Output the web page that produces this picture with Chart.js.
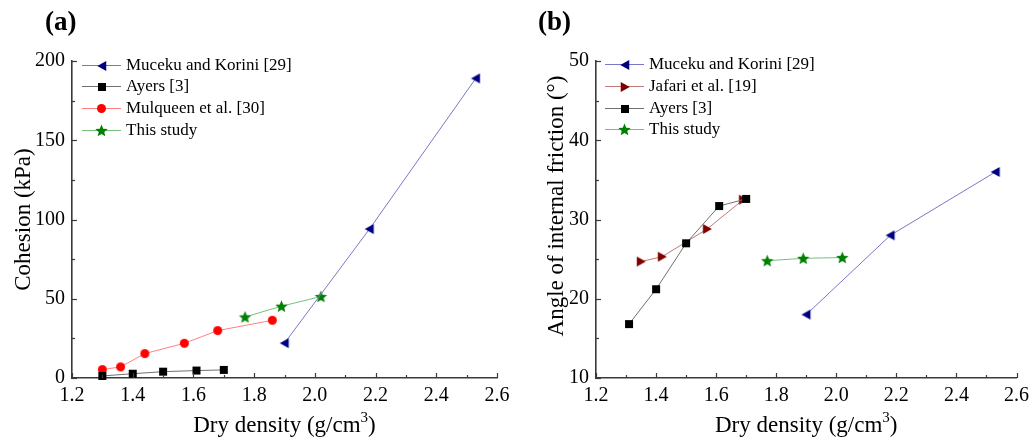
<!DOCTYPE html>
<html>
<head>
<meta charset="utf-8">
<script src="https://cdn.jsdelivr.net/npm/chart.js@4.4.0/dist/chart.umd.min.js"></script>
<style>
  body { margin: 0; background: #fff; }
  #wrap { position: relative; width: 1035px; height: 440px; }
  .panel { position: absolute; top: 0; height: 440px; }
</style>
</head>
<body>
<div id="wrap">
  <div class="panel" style="left:0;width:517px"><canvas id="chartA" width="517" height="440"></canvas></div>
  <div class="panel" style="left:517px;width:518px"><canvas id="chartB" width="518" height="440"></canvas></div>
</div>
<script>
// ---- data ----
// (a) cohesion
const mucekuDensA = [1.90, 2.18, 2.53];
const mucekuCohesion = [22, 94, 189];
const ayersDensA = [1.30, 1.40, 1.50, 1.61, 1.70];
const ayersCohesion = [1.3, 2.7, 4.0, 4.7, 5.1];
const mulqueenDens = [1.30, 1.36, 1.44, 1.57, 1.68, 1.86];
const mulqueenCohesion = [5.3, 7.0, 15.4, 21.9, 29.9, 36.4];
const studyDensA = [1.77, 1.89, 2.02];
const studyCohesion = [38.5, 45.3, 51.4];

// (b) angle of internal friction
const mucekuDensB = [1.90, 2.18, 2.53];
const mucekuFriction = [18.0, 28.0, 36.0];
const jafariDens = [1.35, 1.42, 1.57, 1.69];
const jafariFriction = [24.7, 25.3, 28.8, 32.5];
const ayersDensB = [1.31, 1.40, 1.50, 1.61, 1.70];
const ayersFriction = [16.8, 21.2, 27.0, 31.7, 32.6];
const studyDensB = [1.77, 1.89, 2.02];
const studyFriction = [24.8, 25.1, 25.2];

// ticks
const xTicks = [1.2, 1.4, 1.6, 1.8, 2.0, 2.2, 2.4, 2.6];
const xMinor = [1.3, 1.5, 1.7, 1.9, 2.1, 2.3, 2.5];
const yTicksA = [0, 50, 100, 150, 200];
const yMinorA = [25, 75, 125, 175];
const yTicksB = [10, 20, 30, 40, 50];
const yMinorB = [15, 25, 35, 45];

const FONT = '"Liberation Serif", "Times New Roman", serif';
const AXIS = '#3a3a3a';

function pts(xs, ys) {
  return xs.map((x, i) => ({ x: x, y: ys[i] }));
}

// marker images so chart points and legend symbols look the same
function marker(kind, color, size) {
  const c = document.createElement('canvas');
  const s = size + 2;
  c.width = s; c.height = s;
  const g = c.getContext('2d');
  const m = s / 2, r = size / 2;
  g.fillStyle = color;
  g.beginPath();
  if (kind === 'square') {
    g.rect(m - r, m - r, size, size);
  } else if (kind === 'circle') {
    g.arc(m, m, r, 0, Math.PI * 2);
  } else if (kind === 'left') {
    g.moveTo(m - r * 0.95, m); g.lineTo(m + r * 0.85, m - r); g.lineTo(m + r * 0.85, m + r);
  } else if (kind === 'right') {
    g.moveTo(m + r * 0.95, m); g.lineTo(m - r * 0.85, m - r); g.lineTo(m - r * 0.85, m + r);
  } else if (kind === 'star') {
    for (let i = 0; i < 10; i++) {
      const rad = i % 2 === 0 ? r : r * 0.45;
      const a = -Math.PI / 2 + i * Math.PI / 5;
      const px = m + rad * Math.cos(a), py = m + rad * Math.sin(a) + 0.5;
      if (i === 0) g.moveTo(px, py); else g.lineTo(px, py);
    }
  }
  g.closePath();
  g.fill();
  return c;
}

const mk = {
  muceku: marker('left', '#000080', 10),
  ayers: marker('square', '#000000', 8),
  mulqueen: marker('circle', '#ff0000', 9),
  jafari: marker('right', '#800000', 10),
  study: marker('star', '#008000', 13)
};

const lineCol = {
  muceku: '#7878c8',
  ayers: '#707070',
  mulqueen: '#ff8080',
  jafari: '#c07878',
  study: '#78c078'
};

function ds(label, key, data, order) {
  return {
    label: label,
    data: data,
    showLine: true,
    borderColor: lineCol[key],
    borderWidth: 1,
    pointStyle: mk[key],
    pointRadius: 5,
    tension: 0,
    fill: false,
    order: order
  };
}

// axes decorations, titles and legend drawn on top of the chart
const decor = {
  id: 'decor',
  afterDraw(chart, args, o) {
    const ctx = chart.ctx;
    const xs = chart.scales.x, ys = chart.scales.y;
    const ca = chart.chartArea;
    ctx.save();
    ctx.strokeStyle = AXIS;
    ctx.lineWidth = 1.2;
    // inward ticks
    xTicks.concat(xMinor).forEach(v => {
      const px = Math.round(xs.getPixelForValue(v)) + 0.5;
      const len = xMinor.includes(v) ? 3 : 5;
      ctx.beginPath(); ctx.moveTo(px, ca.bottom); ctx.lineTo(px, ca.bottom - len); ctx.stroke();
    });
    o.yTicks.concat(o.yMinor).forEach(v => {
      const py = Math.round(ys.getPixelForValue(v)) + 0.5;
      const len = o.yMinor.includes(v) ? 3 : 5;
      ctx.beginPath(); ctx.moveTo(ca.left, py); ctx.lineTo(ca.left + len, py); ctx.stroke();
    });

    ctx.fillStyle = '#000';
    // panel label
    ctx.font = 'bold 27px ' + FONT;
    ctx.textAlign = 'left';
    ctx.textBaseline = 'alphabetic';
    ctx.fillText(o.panel, o.panelX, 30);

    // x title with superscript
    ctx.font = '23px ' + FONT;
    const t1 = 'Dry density (g/cm', sup = '3', t2 = ')';
    const w1 = ctx.measureText(t1).width, w3 = ctx.measureText(t2).width;
    ctx.font = '15px ' + FONT;
    const w2 = ctx.measureText(sup).width;
    let x0 = (ca.left + ca.right) / 2 - (w1 + w2 + w3) / 2;
    ctx.font = '23px ' + FONT;
    ctx.fillText(t1, x0, 432);
    ctx.font = '15px ' + FONT;
    ctx.fillText(sup, x0 + w1, 422);
    ctx.font = '23px ' + FONT;
    ctx.fillText(t2, x0 + w1 + w2, 432);

    // y title
    ctx.save();
    ctx.translate(o.yTitleX, o.yTitleY);
    ctx.rotate(-Math.PI / 2);
    ctx.textAlign = 'center';
    ctx.fillText(o.yTitle, 0, 0);
    ctx.restore();

    // legend
    ctx.font = '17px ' + FONT;
    ctx.textBaseline = 'middle';
    o.legend.forEach((it, i) => {
      const y = o.legY[i];
      ctx.strokeStyle = lineCol[it.key];
      ctx.lineWidth = 1;
      ctx.beginPath(); ctx.moveTo(o.legX, y + 0.5); ctx.lineTo(o.legX + 39, y + 0.5); ctx.stroke();
      const img = mk[it.key];
      ctx.drawImage(img, Math.round(o.legX + 19.5 - img.width / 2), Math.round(y + 0.5 - img.height / 2));
      ctx.fillText(it.label, o.legX + 44, y + 1);
    });
    ctx.restore();
  }
};

function makeChart(id, datasets, p) {
  return new Chart(document.getElementById(id), {
    type: 'scatter',
    data: { datasets: datasets },
    plugins: [decor],
    options: {
      responsive: false,
      animation: false,
      clip: false,
      layout: { padding: { top: 61, right: p.right, left: 0, bottom: 0 } },
      plugins: {
        legend: { display: false },
        tooltip: { enabled: false },
        decor: p
      },
      scales: {
        x: {
          type: 'linear',
          min: 1.2, max: 2.6,
          afterBuildTicks: s => { s.ticks = xTicks.map(v => ({ value: v })); },
          afterFit: s => { s.height = 62; },
          grid: { display: true, drawOnChartArea: false, drawTicks: false },
          border: { display: true, color: AXIS, width: 1.6 },
          ticks: {
            color: '#000', padding: 6, maxRotation: 0,
            font: { family: FONT, size: 20 },
            callback: v => v.toFixed(1)
          }
        },
        y: {
          type: 'linear',
          min: p.yTicks[0], max: p.yTicks[p.yTicks.length - 1],
          afterBuildTicks: s => { s.ticks = p.yTicks.map(v => ({ value: v })); },
          afterFit: s => { s.width = p.yWidth; },
          grid: { display: true, drawOnChartArea: false, drawTicks: false },
          border: { display: true, color: AXIS, width: 1.6 },
          ticks: {
            color: '#000', padding: 7,
            font: { family: FONT, size: 20 }
          }
        }
      }
    }
  });
}

makeChart('chartA', [
  ds('Muceku and Korini [29]', 'muceku', pts(mucekuDensA, mucekuCohesion), 0),
  ds('Ayers [3]', 'ayers', pts(ayersDensA, ayersCohesion), 2),
  ds('Mulqueen et al. [30]', 'mulqueen', pts(mulqueenDens, mulqueenCohesion), 3),
  ds('This study', 'study', pts(studyDensA, studyCohesion), 1)
], {
  right: 20, yWidth: 72,
  yTicks: yTicksA, yMinor: yMinorA,
  yTitle: 'Cohesion (kPa)', yTitleX: 30, yTitleY: 219.5,
  panel: '(a)', panelX: 45,
  legX: 82, legY: [65, 86, 108, 130],
  legend: [
    { key: 'muceku', label: 'Muceku and Korini [29]' },
    { key: 'ayers', label: 'Ayers [3]' },
    { key: 'mulqueen', label: 'Mulqueen et al. [30]' },
    { key: 'study', label: 'This study' }
  ]
});

makeChart('chartB', [
  ds('Muceku and Korini [29]', 'muceku', pts(mucekuDensB, mucekuFriction), 3),
  ds('Jafari et al. [19]', 'jafari', pts(jafariDens, jafariFriction), 2),
  ds('Ayers [3]', 'ayers', pts(ayersDensB, ayersFriction), 0),
  ds('This study', 'study', pts(studyDensB, studyFriction), 1)
], {
  right: 13, yWidth: 79,
  yTicks: yTicksB, yMinor: yMinorB,
  yTitle: 'Angle of internal friction (\u00B0)', yTitleX: 46, yTitleY: 206,
  panel: '(b)', panelX: 21,
  legX: 88, legY: [64, 86, 108, 129],
  legend: [
    { key: 'muceku', label: 'Muceku and Korini [29]' },
    { key: 'jafari', label: 'Jafari et al. [19]' },
    { key: 'ayers', label: 'Ayers [3]' },
    { key: 'study', label: 'This study' }
  ]
});
</script>
</body>
</html>
